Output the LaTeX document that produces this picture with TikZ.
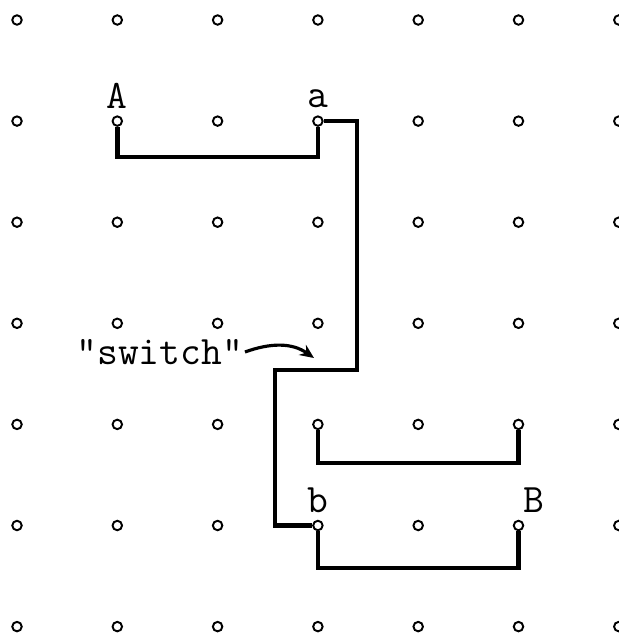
\documentclass[tikz,border=0pt]{standalone}
\usetikzlibrary{arrows.meta}
\tikzset{
  pin/.style={
    draw,
    circle,
    inner sep=0pt,
    minimum size=0.19cm,
    line width=1.1pt
  },
  wire/.style={
    line width=2.6pt,
    line join=miter
  },
  tag/.style={
    font=\ttfamily\fontsize{23}{25}\selectfont,
    inner sep=1pt
  }
}

\begin{document}
\begin{tikzpicture}[x=0.02cm,y=-0.02cm]
  \useasboundingbox (0,0) rectangle (619,637);

  % grid of pins
  \foreach \i in {0,...,6}
    \foreach \j in {0,...,6}
      \node[pin] (p\i\j) at ({17+100.3*\i},{20+101.1*\j}) {};

  % labels
  \node[tag, above=3pt] (lA) at (p11.north) {A};
  \node[tag, above=3pt] (la) at (p31.north) {a};
  \node[tag, above=3pt] (lb) at (p35.north) {b};
  \node[tag, above=3pt, xshift=9pt] (lB) at (p55.north) {B};
  \node[tag, anchor=east] (sw) at (245,352) {"switch"};

  % corners
  \coordinate (c1) at (117,157);
  \coordinate (c3) at (357,120);
  \coordinate (c4) at (357,370);
  \coordinate (c5) at (275,370);
  \coordinate (c7) at (317,463);
  \coordinate (c9) at (317,568);
  \coordinate (swtip) at (314,358);

  % wires
  \draw[wire] (p11) -- (p11 |- c1) -- (p31 |- c1) -- (p31);
  \draw[wire] (p31.east) -- (p31 -| c3) -- (c4) -- (c5) -- (c5 |- p35) -- (p35.west);
  \draw[wire] (p34) -- (p34 |- c7) -- (p54 |- c7) -- (p54);
  \draw[wire] (p35) -- (p35 |- c9) -- (p55 |- c9) -- (p55);

  % switch pointer
  \draw[line width=1.8pt, -{Stealth[length=8pt,width=7pt,open]}]
    (sw.east) to[out=20,in=145] (swtip);
\end{tikzpicture}
\end{document}
